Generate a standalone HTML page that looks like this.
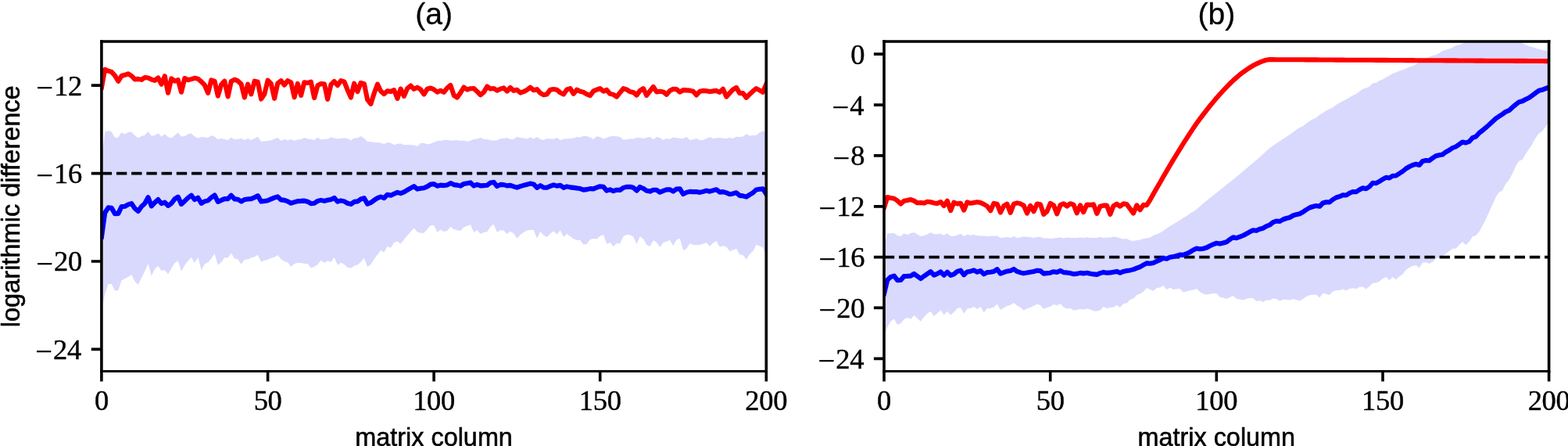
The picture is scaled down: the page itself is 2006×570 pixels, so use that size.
<!DOCTYPE html>
<html lang="en">
<head>
<meta charset="utf-8">
<title>Logarithmic difference per matrix column</title>
<style>
html,body{margin:0;padding:0;background:#fff;}
body{width:2006px;height:570px;overflow:hidden;}
svg{display:block;}
.tk{font-family:"Liberation Serif","DejaVu Serif",serif;font-size:36.5px;fill:#000;stroke:#000;stroke-width:0.4px;letter-spacing:-0.3px;}
.mn{font-size:38.5px;}
.lb{font-family:"Liberation Sans","DejaVu Sans",sans-serif;font-size:32.4px;fill:#000;stroke:#000;stroke-width:0.55px;}
.tt{font-family:"Liberation Sans","DejaVu Sans",sans-serif;font-size:39.1px;fill:#000;stroke:#000;stroke-width:0.3px;}
</style>
</head>
<body>
<svg width="2006" height="570" viewBox="0 0 2006 570">
<rect x="0" y="0" width="2006" height="570" fill="#fff"/>
<defs>
<clipPath id="c0"><rect x="130" y="53" width="850.3" height="421.5"/></clipPath>
<clipPath id="c1"><rect x="1131.1" y="53" width="850.5" height="421.5"/></clipPath>
</defs>
<g id="panel-a">
<g clip-path="url(#c0)">
<polygon fill="#d9d9fe" points="130.0,205.0 134.2,168.2 138.5,167.2 142.8,168.2 147.0,175.9 151.3,175.4 155.5,168.9 159.8,171.7 164.0,168.9 168.3,168.4 172.5,173.1 176.8,176.4 181.0,173.9 185.3,172.7 189.5,167.9 193.8,173.7 198.0,172.9 202.3,170.2 206.5,174.6 210.8,171.2 215.0,175.2 219.3,176.4 223.5,172.9 227.8,169.6 232.0,174.6 236.3,173.9 240.5,171.4 244.8,170.4 249.0,174.4 253.3,176.7 257.6,174.9 261.8,175.4 266.1,176.1 270.3,172.9 274.6,174.7 278.8,177.9 283.1,177.1 287.3,177.9 291.6,179.2 295.8,175.7 300.1,178.2 304.3,177.7 308.6,177.1 312.8,178.9 317.1,176.9 321.3,178.9 325.6,177.1 329.8,174.7 334.1,180.7 338.3,180.4 342.6,179.9 346.8,179.2 351.1,177.4 355.3,176.1 359.6,179.9 363.8,178.1 368.1,179.2 372.3,178.2 376.6,179.7 380.8,178.6 385.1,178.2 389.3,175.9 393.6,177.6 397.8,178.1 402.1,179.1 406.4,175.7 410.6,178.6 414.9,178.1 419.1,177.6 423.4,175.4 427.6,176.4 431.9,177.6 436.1,176.7 440.4,176.4 444.6,177.1 448.9,179.4 453.1,176.4 457.4,176.4 461.6,174.1 465.9,176.7 470.1,181.1 474.4,180.9 478.6,182.1 482.9,181.9 487.1,182.7 491.4,184.1 495.6,182.1 499.9,182.7 504.1,185.2 508.4,183.7 512.6,183.4 516.9,185.2 521.1,184.9 525.4,185.2 529.6,185.6 533.9,187.1 538.1,182.9 542.4,182.7 546.6,184.6 550.9,183.4 555.1,182.1 559.4,179.9 563.6,179.9 567.9,179.1 572.2,178.9 576.4,179.4 580.7,179.4 584.9,178.9 589.2,179.9 593.4,179.6 597.7,180.9 601.9,179.7 606.2,177.9 610.4,177.4 614.7,175.9 618.9,177.7 623.2,177.9 627.4,179.2 631.7,179.6 635.9,179.2 640.2,177.2 644.4,176.9 648.7,176.1 652.9,178.1 657.2,177.9 661.4,174.7 665.7,175.9 669.9,176.6 674.2,177.4 678.4,175.4 682.7,177.6 687.0,174.9 691.2,178.1 695.5,178.9 699.7,176.9 704.0,177.4 708.2,177.7 712.5,176.1 716.7,179.2 721.0,177.4 725.2,177.4 729.5,177.1 733.7,176.4 738.0,175.1 742.2,175.4 746.5,173.7 750.7,173.9 755.0,175.4 759.2,177.9 763.5,174.2 767.7,175.1 772.0,177.6 776.2,175.9 780.5,174.2 784.7,173.9 789.0,174.2 793.2,174.9 797.5,178.4 801.7,178.2 806.0,177.4 810.2,177.4 814.5,175.9 818.7,176.1 823.0,176.9 827.2,175.7 831.5,175.1 835.8,178.2 840.0,175.1 844.2,175.9 848.5,178.9 852.8,176.9 857.0,177.7 861.3,175.4 865.5,176.2 869.8,176.9 874.0,176.9 878.3,174.9 882.5,179.1 886.8,178.2 891.0,176.9 895.3,179.2 899.5,179.1 903.8,177.1 908.0,175.2 912.3,177.1 916.5,176.4 920.8,176.1 925.0,176.7 929.3,177.1 933.5,176.1 937.8,176.9 942.0,174.7 946.3,174.9 950.5,174.6 954.8,171.2 959.0,173.4 963.3,172.9 967.5,173.1 971.8,169.2 976.0,167.2 980.3,168.4 980.3,326.8 976.0,315.9 971.8,314.4 967.5,312.7 963.3,320.9 959.0,324.9 954.8,331.8 950.5,326.1 946.3,325.4 942.0,317.7 937.8,319.4 933.5,320.9 929.3,315.5 925.0,313.9 920.8,315.7 916.5,307.9 912.3,310.4 908.0,314.7 903.8,309.9 899.5,311.7 895.3,313.1 891.0,313.1 886.8,312.9 882.5,310.9 878.3,317.7 874.0,319.9 869.8,304.7 865.5,306.4 861.3,313.9 857.0,306.9 852.8,308.4 848.5,310.1 844.2,315.9 840.0,309.7 835.8,307.2 831.5,314.9 827.2,312.7 823.0,305.4 818.7,301.9 814.5,312.1 810.2,302.4 806.0,299.9 801.7,300.1 797.5,302.1 793.2,311.4 789.0,310.7 784.7,314.9 780.5,309.9 776.2,311.7 772.0,299.9 767.7,301.4 763.5,305.4 759.2,304.9 755.0,306.1 750.7,311.9 746.5,312.4 742.2,307.1 738.0,306.7 733.7,305.2 729.5,301.9 725.2,299.1 721.0,302.9 716.7,294.2 712.5,299.7 708.2,295.2 704.0,298.7 699.7,302.9 695.5,300.7 691.2,296.1 687.0,304.7 682.7,293.7 678.4,293.9 674.2,294.4 669.9,297.1 665.7,300.1 661.4,304.7 657.2,298.2 652.9,295.7 648.7,298.9 644.4,294.4 640.2,293.9 635.9,296.9 631.7,286.7 627.4,289.7 623.2,296.2 618.9,297.1 614.7,298.9 610.4,293.9 606.2,297.1 601.9,287.1 597.7,288.7 593.4,290.4 589.2,294.9 584.9,294.2 580.7,293.1 576.4,289.7 572.2,294.7 567.9,295.9 563.6,293.4 559.4,296.7 555.1,287.9 550.9,288.1 546.6,292.9 542.4,297.7 538.1,297.7 533.9,296.4 529.6,291.4 525.4,296.0 521.1,301.0 516.9,306.0 512.6,311.4 508.4,308.5 504.1,310.1 499.9,316.7 495.6,315.1 491.4,322.6 487.1,320.1 482.9,325.4 478.6,331.1 474.4,337.9 470.1,341.1 465.9,329.7 461.6,334.7 457.4,338.4 453.1,339.7 448.9,342.7 444.6,341.7 440.4,337.9 436.1,335.7 431.9,338.7 427.6,329.1 423.4,334.7 419.1,333.4 414.9,335.7 410.6,332.7 406.4,338.1 402.1,340.9 397.8,342.4 393.6,337.1 389.3,337.1 385.1,336.1 380.8,336.1 376.6,337.1 372.3,340.9 368.1,335.2 363.8,334.1 359.6,331.4 355.3,326.1 351.1,328.7 346.8,329.7 342.6,331.9 338.3,332.7 334.1,334.7 329.8,325.8 325.6,328.2 321.3,329.5 317.1,331.5 312.8,331.8 308.6,337.8 304.3,331.2 300.1,330.5 295.8,323.5 291.6,329.2 287.3,329.3 283.1,335.0 278.8,338.8 274.6,324.2 270.3,330.5 266.1,335.2 261.8,337.4 257.6,344.9 253.3,328.8 249.0,336.2 244.8,329.0 240.5,333.5 236.3,338.9 232.0,346.7 227.8,333.2 223.5,336.0 219.3,342.9 215.0,350.4 210.8,345.1 206.5,345.9 202.3,339.8 198.0,343.7 193.8,352.7 189.5,337.0 185.3,346.4 181.0,354.9 176.8,363.7 172.5,359.7 168.3,351.1 164.0,354.1 159.8,355.9 155.5,358.4 151.3,370.9 147.0,371.4 142.8,363.1 138.5,363.1 134.2,376.3 130.0,395.0"/>
<line x1="129.7" y1="221.6" x2="980.3" y2="221.6" stroke="#000" stroke-width="3.6" stroke-dasharray="13.41 5.8"/>
<polyline fill="none" stroke="#0000ff" stroke-width="6.1" stroke-linejoin="round" stroke-linecap="square" points="130.0,302.6 134.2,272.0 138.5,265.4 142.8,265.9 147.0,273.1 151.3,272.9 155.5,264.1 159.8,263.7 164.0,261.4 168.3,260.1 172.5,266.4 176.8,269.9 181.0,263.9 185.3,259.9 189.5,252.1 193.8,263.3 198.0,258.9 202.3,255.1 206.5,260.1 210.8,258.6 215.0,262.9 219.3,259.9 223.5,254.4 227.8,251.6 232.0,260.9 236.3,256.9 240.5,252.9 244.8,249.7 249.0,255.1 253.3,252.7 257.6,259.9 261.8,257.4 266.1,256.4 270.3,252.4 274.6,249.4 278.8,257.9 283.1,255.9 287.3,254.1 291.6,254.1 295.8,249.7 300.1,254.4 304.3,254.7 308.6,257.5 312.8,255.1 317.1,254.4 321.3,254.1 325.6,252.4 329.8,250.1 334.1,257.6 338.3,256.9 342.6,256.2 346.8,254.4 351.1,252.7 355.3,251.4 359.6,255.4 363.8,255.9 368.1,257.4 372.3,259.7 376.6,258.4 380.8,257.1 385.1,256.9 389.3,256.6 393.6,257.7 397.8,260.1 402.1,259.7 406.4,256.9 410.6,255.9 414.9,256.9 419.1,255.7 423.4,254.9 427.6,252.9 431.9,257.7 436.1,256.4 440.4,257.4 444.6,259.7 448.9,260.9 453.1,257.9 457.4,257.4 461.6,254.4 465.9,253.2 470.1,260.7 474.4,258.9 478.6,255.9 482.9,253.1 487.1,251.5 491.4,253.1 495.6,248.7 499.9,249.7 504.1,247.7 508.4,245.9 512.6,247.1 516.9,245.4 521.1,242.9 525.4,240.4 529.6,238.1 533.9,241.6 538.1,240.7 542.4,240.2 546.6,238.4 550.9,235.6 555.1,235.1 559.4,237.7 563.6,236.6 567.9,237.1 572.2,236.4 576.4,234.1 580.7,236.1 584.9,236.6 589.2,237.6 593.4,234.9 597.7,234.2 601.9,233.4 606.2,237.4 610.4,235.9 614.7,237.4 618.9,237.1 623.2,236.7 627.4,233.6 631.7,232.9 635.9,238.1 640.2,235.9 644.4,236.1 648.7,237.4 652.9,236.9 657.2,238.4 661.4,239.7 665.7,238.1 669.9,236.9 674.2,235.7 678.4,234.6 682.7,235.4 687.0,239.9 691.2,237.2 695.5,239.6 699.7,239.7 704.0,237.9 708.2,236.4 712.5,237.7 716.7,236.7 721.0,239.9 725.2,238.4 729.5,239.4 733.7,239.9 738.0,240.4 742.2,241.1 746.5,242.6 750.7,242.1 755.0,241.1 759.2,241.4 763.5,239.7 767.7,238.2 772.0,238.7 776.2,243.7 780.5,242.4 784.7,244.2 789.0,242.7 793.2,242.9 797.5,239.9 801.7,238.9 806.0,238.7 810.2,239.7 814.5,243.6 818.7,238.9 823.0,240.9 827.2,243.7 831.5,244.6 835.8,242.7 840.0,242.7 844.2,245.7 848.5,243.9 852.8,242.4 857.0,242.2 861.3,244.6 865.5,241.5 869.8,241.4 874.0,248.1 878.3,245.9 882.5,244.9 886.8,245.1 891.0,245.1 895.3,245.9 899.5,244.9 903.8,243.6 908.0,244.7 912.3,243.4 916.5,242.2 920.8,245.6 925.0,245.1 929.3,246.4 933.5,248.2 937.8,247.4 942.0,246.2 946.3,249.9 950.5,250.4 954.8,251.6 959.0,248.9 963.3,246.4 967.5,242.4 971.8,241.7 976.0,241.4 980.3,247.9"/>
<polyline fill="none" stroke="#ff0000" stroke-width="6.1" stroke-linejoin="round" stroke-linecap="square" points="130.0,111.7 134.2,88.8 138.5,90.7 142.8,92.0 147.0,96.6 151.3,103.8 155.5,97.0 159.8,95.8 164.0,94.3 168.3,97.0 172.5,101.4 176.8,100.9 181.0,101.9 185.3,99.0 189.5,99.5 193.8,101.6 198.0,102.9 202.3,99.5 206.5,107.7 210.8,97.2 215.0,118.7 219.3,100.4 223.5,103.6 227.8,102.2 232.0,117.7 236.3,100.0 240.5,102.3 244.8,101.1 249.0,99.8 253.3,100.7 257.6,104.4 261.8,108.7 266.1,118.9 270.3,102.4 274.6,103.9 278.8,122.6 283.1,108.1 287.3,103.7 291.6,123.4 295.8,103.9 300.1,101.7 304.3,103.4 308.6,107.4 312.8,124.6 317.1,107.6 321.3,120.4 325.6,103.7 329.8,104.7 334.1,126.6 338.3,120.4 342.6,102.7 346.8,106.9 351.1,125.9 355.3,106.4 359.6,103.2 363.8,108.7 368.1,103.1 372.3,105.4 376.6,124.3 380.8,106.9 385.1,121.9 389.3,105.2 393.6,105.9 397.8,104.7 402.1,125.1 406.4,109.2 410.6,107.1 414.9,107.2 419.1,126.9 423.4,108.1 427.6,103.9 431.9,109.1 436.1,103.2 440.4,104.4 444.6,114.9 448.9,124.6 453.1,106.7 457.4,117.1 461.6,105.9 465.9,107.1 470.1,127.4 474.4,132.8 478.6,119.4 482.9,107.7 487.1,116.4 491.4,120.1 495.6,116.2 499.9,117.1 504.1,115.1 508.4,125.9 512.6,113.6 516.9,122.9 521.1,113.1 525.4,109.5 529.6,113.9 533.9,111.7 538.1,114.4 542.4,120.6 546.6,113.7 550.9,112.5 555.1,114.4 559.4,117.6 563.6,115.7 567.9,117.9 572.2,112.4 576.4,108.9 580.7,121.9 584.9,124.6 589.2,118.4 593.4,111.5 597.7,114.6 601.9,113.2 606.2,113.1 610.4,116.9 614.7,121.3 618.9,117.9 623.2,110.5 627.4,113.6 631.7,113.0 635.9,115.6 640.2,113.7 644.4,112.4 648.7,116.6 652.9,111.9 657.2,115.9 661.4,114.7 665.7,118.6 669.9,117.2 674.2,114.9 678.4,111.7 682.7,115.3 687.0,114.1 691.2,118.9 695.5,121.3 699.7,120.4 704.0,114.7 708.2,114.1 712.5,114.7 716.7,118.4 721.0,120.6 725.2,114.4 729.5,113.1 733.7,119.9 738.0,114.7 742.2,116.7 746.5,117.9 750.7,120.4 755.0,122.1 759.2,116.4 763.5,114.7 767.7,113.1 772.0,116.6 776.2,114.9 780.5,119.9 784.7,120.9 789.0,123.6 793.2,118.4 797.5,113.2 801.7,114.4 806.0,117.2 810.2,117.9 814.5,121.6 818.7,115.9 823.0,113.2 827.2,121.9 831.5,116.4 835.8,110.9 840.0,117.4 844.2,116.7 848.5,117.4 852.8,120.9 857.0,115.9 861.3,113.7 865.5,114.1 869.8,117.6 874.0,115.1 878.3,115.4 882.5,115.6 886.8,116.7 891.0,121.4 895.3,116.7 899.5,115.9 903.8,116.2 908.0,117.1 912.3,116.4 916.5,115.9 920.8,117.9 925.0,113.7 929.3,123.6 933.5,118.9 937.8,114.4 942.0,111.9 946.3,119.1 950.5,119.1 954.8,124.9 959.0,120.4 963.3,116.4 967.5,113.1 971.8,115.4 976.0,117.7 980.3,107.4"/>
</g>
<g stroke="#000" fill="none" stroke-linecap="square">
<path d="M129.9 53.0V474.5 M980.3 53.0V474.5" stroke-width="3.6"/>
<path d="M130.0 53.0H980.3" stroke-width="3.5"/>
<path d="M130.0 474.5H980.3" stroke-width="3.2"/>
</g>
<path d="M129.9 474.5v12.9M342.6 474.5v12.9M555.1 474.5v12.9M767.7 474.5v12.9M980.3 474.5v12.9" stroke="#000" stroke-width="3.6" fill="none"/>
<path d="M130.0 109.2h-13.2M130.0 221.6h-13.2M130.0 334.0h-13.2M130.0 446.4h-13.2" stroke="#000" stroke-width="3.7" fill="none"/>
<text class="tk" x="130.0" y="524.2" text-anchor="middle">0</text>
<text class="tk" x="342.6" y="524.2" text-anchor="middle">50</text>
<text class="tk" x="555.1" y="524.2" text-anchor="middle">100</text>
<text class="tk" x="767.7" y="524.2" text-anchor="middle">150</text>
<text class="tk" x="980.3" y="524.2" text-anchor="middle">200</text>
<text class="tk" x="105.0" y="121.6" text-anchor="end"><tspan class="mn" dy="3.3">−</tspan><tspan dy="-3.3" dx="1.3">12</tspan></text>
<text class="tk" x="105.0" y="234.0" text-anchor="end"><tspan class="mn" dy="3.3">−</tspan><tspan dy="-3.3" dx="1.3">16</tspan></text>
<text class="tk" x="105.0" y="346.4" text-anchor="end"><tspan class="mn" dy="3.3">−</tspan><tspan dy="-3.3" dx="1.3">20</tspan></text>
<text class="tk" x="104.0" y="458.8" text-anchor="end"><tspan class="mn" dy="3.3">−</tspan><tspan dy="-3.3" dx="1.3">24</tspan></text>
<text class="tt" x="555.1" y="31.4" text-anchor="middle">(a)</text>
<text class="lb" x="555.1" y="570.0" text-anchor="middle">matrix column</text>
<text class="lb" style="font-size:32.6px" transform="translate(24.5 263.8) rotate(-90)" text-anchor="middle">logarithmic difference</text>
</g>
<g id="panel-b">
<g clip-path="url(#c1)">
<polygon fill="#d9d9fe" points="1131.1,316.0 1135.3,298.4 1139.6,298.1 1143.9,298.1 1148.1,301.1 1152.4,301.9 1156.6,298.2 1160.9,299.9 1165.1,297.9 1169.4,296.9 1173.6,299.4 1177.9,301.9 1182.1,301.1 1186.4,299.4 1190.6,296.9 1194.9,299.2 1199.1,299.2 1203.4,298.6 1207.6,300.7 1211.9,298.2 1216.2,301.7 1220.4,301.9 1224.7,300.4 1228.9,298.7 1233.2,301.9 1237.4,299.7 1241.7,300.7 1245.9,300.1 1250.2,301.1 1254.4,301.4 1258.7,301.4 1262.9,302.1 1267.2,301.4 1271.4,301.4 1275.7,301.4 1279.9,303.9 1284.2,303.6 1288.4,302.9 1292.7,303.9 1297.0,301.9 1301.2,303.9 1305.5,303.2 1309.7,302.2 1314.0,302.7 1318.2,303.1 1322.5,303.9 1326.7,302.7 1331.0,302.7 1335.2,304.6 1339.5,304.6 1343.7,304.9 1348.0,304.6 1352.2,304.1 1356.5,303.2 1360.7,304.6 1365.0,303.6 1369.2,304.1 1373.5,304.1 1377.7,304.1 1382.0,303.6 1386.2,304.1 1390.5,303.2 1394.8,304.1 1399.0,304.1 1403.3,303.9 1407.5,302.7 1411.8,303.9 1416.0,303.6 1420.3,303.4 1424.5,302.4 1428.8,302.9 1433.0,304.6 1437.3,305.4 1441.5,305.1 1445.8,307.3 1450.0,308.0 1454.3,307.0 1458.5,306.4 1462.8,304.9 1467.0,304.4 1471.3,303.4 1475.5,300.7 1479.8,299.4 1484.1,297.4 1488.3,294.9 1492.6,291.4 1496.8,288.9 1501.1,286.4 1505.3,283.9 1509.6,281.4 1513.8,278.4 1518.1,275.9 1522.3,273.1 1526.6,270.2 1530.8,267.5 1535.1,263.7 1539.3,260.1 1543.6,256.6 1547.8,253.2 1552.1,249.8 1556.3,246.4 1560.6,242.9 1564.9,239.5 1569.1,236.1 1573.4,232.7 1577.6,229.4 1581.9,226.0 1586.1,222.4 1590.4,218.8 1594.6,215.2 1598.9,211.8 1603.1,208.1 1607.4,204.5 1611.6,200.7 1615.9,196.9 1620.1,193.1 1624.4,189.3 1628.6,186.3 1632.9,183.3 1637.2,180.4 1641.4,177.4 1645.7,175.0 1649.9,171.9 1654.2,169.1 1658.4,166.1 1662.7,163.0 1666.9,161.3 1671.2,157.8 1675.4,154.8 1679.7,152.3 1683.9,150.4 1688.2,146.8 1692.4,144.6 1696.7,141.2 1700.9,139.4 1705.2,137.2 1709.4,133.9 1713.7,131.4 1717.9,129.3 1722.2,126.9 1726.5,124.4 1730.7,122.0 1735.0,120.0 1739.2,116.9 1743.5,113.8 1747.7,112.4 1752.0,110.8 1756.2,106.3 1760.5,105.9 1764.7,103.1 1769.0,101.6 1773.2,99.1 1777.5,96.4 1781.7,94.0 1786.0,92.4 1790.2,90.8 1794.5,89.3 1798.7,87.8 1803.0,85.6 1807.2,84.4 1811.5,82.2 1815.8,79.5 1820.0,77.6 1824.3,74.6 1828.5,72.5 1832.8,70.9 1837.0,70.3 1841.3,67.8 1845.5,65.0 1849.8,63.8 1854.0,62.6 1858.3,60.8 1862.5,58.0 1866.8,57.4 1871.0,55.5 1875.3,54.0 1879.5,52.7 1883.8,51.2 1888.0,49.5 1892.3,49.5 1896.5,49.5 1900.8,49.5 1905.0,49.5 1909.3,49.5 1913.6,49.5 1917.8,49.5 1922.1,49.5 1926.3,49.5 1930.6,49.5 1934.8,50.7 1939.1,51.9 1943.3,53.2 1947.6,55.3 1951.8,57.2 1956.1,59.0 1960.3,60.3 1964.6,61.6 1968.8,62.7 1973.1,63.8 1977.3,64.7 1981.6,65.5 1981.6,155.8 1977.3,162.1 1973.1,167.8 1968.8,170.6 1964.6,176.3 1960.3,184.2 1956.1,190.5 1951.8,196.8 1947.6,204.1 1943.3,205.7 1939.1,212.6 1934.8,222.1 1930.6,230.0 1926.3,234.7 1922.1,243.6 1917.8,245.8 1913.6,252.1 1909.3,261.6 1905.0,271.0 1900.8,280.5 1896.5,288.4 1892.3,296.3 1888.0,301.0 1883.8,302.6 1879.5,308.9 1875.3,313.0 1871.0,308.9 1866.8,313.0 1862.5,317.8 1858.3,317.8 1854.0,321.0 1849.8,324.1 1845.5,327.7 1841.3,329.1 1837.0,330.5 1832.8,334.8 1828.5,336.9 1824.3,335.2 1820.0,335.5 1815.8,342.3 1811.5,339.1 1807.2,339.8 1803.0,341.9 1798.7,344.7 1794.5,350.4 1790.2,353.3 1786.0,357.2 1781.7,354.0 1777.5,357.9 1773.2,354.0 1769.0,356.1 1764.7,359.7 1760.5,361.4 1756.2,361.8 1752.0,366.1 1747.7,369.6 1743.5,366.5 1739.2,366.8 1735.0,369.3 1730.7,368.2 1726.5,368.9 1722.2,371.3 1717.9,369.6 1713.7,371.1 1709.4,371.1 1705.2,372.4 1700.9,376.9 1696.7,375.7 1692.4,374.7 1688.2,380.4 1683.9,376.4 1679.7,376.7 1675.4,376.9 1671.2,379.2 1666.9,381.9 1662.7,384.6 1658.4,383.2 1654.2,381.9 1649.9,383.4 1645.7,383.1 1641.4,382.7 1637.2,384.7 1632.9,381.7 1628.6,381.4 1624.4,383.7 1620.1,383.6 1615.9,385.9 1611.6,383.9 1607.4,384.9 1603.1,380.9 1598.9,380.7 1594.6,382.1 1590.4,383.4 1586.1,382.4 1581.9,381.9 1577.6,377.9 1573.4,379.9 1569.1,382.1 1564.9,380.4 1560.6,379.7 1556.3,375.1 1552.1,374.9 1547.8,375.7 1543.6,376.4 1539.3,375.4 1535.1,372.9 1530.8,368.9 1526.6,370.4 1522.3,371.2 1518.1,372.4 1513.8,373.4 1509.6,369.0 1505.3,369.2 1501.1,370.1 1496.8,367.5 1492.6,370.0 1488.3,365.0 1484.1,367.5 1479.8,368.0 1475.5,371.8 1471.3,370.1 1467.0,368.0 1462.8,372.8 1458.5,375.4 1454.3,377.1 1450.0,381.4 1445.8,382.7 1441.5,387.4 1437.3,388.1 1433.0,392.9 1428.8,389.9 1424.5,392.7 1420.3,393.1 1416.0,393.9 1411.8,391.9 1407.5,396.4 1403.3,397.7 1399.0,397.4 1394.8,395.4 1390.5,394.4 1386.2,395.4 1382.0,394.9 1377.7,396.1 1373.5,396.7 1369.2,394.1 1365.0,394.4 1360.7,392.4 1356.5,388.1 1352.2,390.4 1348.0,388.9 1343.7,391.9 1339.5,392.9 1335.2,394.9 1331.0,389.9 1326.7,388.7 1322.5,390.7 1318.2,392.9 1314.0,394.2 1309.7,396.7 1305.5,393.1 1301.2,390.4 1297.0,386.9 1292.7,389.7 1288.4,390.9 1284.2,393.4 1279.9,395.9 1275.7,388.6 1271.4,392.7 1267.2,393.9 1262.9,394.1 1258.7,399.6 1254.4,392.1 1250.2,395.1 1245.9,391.9 1241.7,393.9 1237.4,394.4 1233.2,400.7 1228.9,392.9 1224.7,393.9 1220.4,398.9 1216.2,402.4 1211.9,397.7 1207.6,402.4 1203.4,396.2 1199.1,400.4 1194.9,404.1 1190.6,397.9 1186.4,400.4 1182.1,404.9 1177.9,410.7 1173.6,406.9 1169.4,402.9 1165.1,408.1 1160.9,405.9 1156.6,407.9 1152.4,413.6 1148.1,414.9 1143.9,407.4 1139.6,410.4 1135.3,417.9 1131.1,429.5"/>
<line x1="1130.8" y1="328.6" x2="1981.6" y2="328.6" stroke="#000" stroke-width="3.6" stroke-dasharray="13.41 5.8"/>
<polyline fill="none" stroke="#0000ff" stroke-width="6.1" stroke-linejoin="round" stroke-linecap="square" points="1131.1,375.0 1135.3,357.7 1139.6,353.9 1143.9,352.7 1148.1,358.2 1152.4,358.0 1156.6,353.1 1160.9,352.9 1165.1,352.6 1169.4,349.9 1173.6,352.9 1177.9,356.1 1182.1,352.9 1186.4,349.9 1190.6,347.1 1194.9,351.7 1199.1,349.9 1203.4,347.4 1207.6,351.7 1211.9,347.7 1216.2,351.9 1220.4,350.4 1224.7,346.9 1228.9,345.7 1233.2,351.4 1237.4,347.4 1241.7,346.7 1245.9,345.4 1250.2,347.7 1254.4,346.1 1258.7,350.4 1262.9,348.1 1267.2,347.7 1271.4,346.9 1275.7,344.2 1279.9,349.6 1284.2,348.1 1288.4,346.7 1292.7,346.1 1297.0,343.9 1301.2,346.9 1305.5,348.4 1309.7,349.4 1314.0,348.4 1318.2,347.7 1322.5,347.1 1326.7,345.7 1331.0,346.1 1335.2,349.6 1339.5,349.1 1343.7,348.7 1348.0,347.2 1352.2,347.9 1356.5,345.9 1360.7,348.1 1365.0,348.4 1369.2,349.1 1373.5,350.2 1377.7,349.9 1382.0,348.9 1386.2,349.4 1390.5,348.7 1394.8,349.7 1399.0,350.4 1403.3,350.9 1407.5,349.2 1411.8,347.9 1416.0,348.7 1420.3,348.4 1424.5,347.7 1428.8,346.9 1433.0,348.7 1437.3,346.9 1441.5,346.1 1445.8,345.4 1450.0,344.4 1454.3,342.7 1458.5,341.1 1462.8,338.7 1467.0,336.4 1471.3,336.7 1475.5,335.9 1479.8,333.9 1484.1,332.1 1488.3,330.1 1492.6,330.7 1496.8,328.7 1501.1,328.1 1505.3,326.9 1509.6,325.6 1513.8,325.9 1518.1,324.2 1522.3,322.2 1526.6,319.5 1530.8,317.5 1535.1,318.3 1539.3,317.7 1543.6,316.5 1547.8,314.2 1552.1,312.3 1556.3,310.7 1560.6,311.5 1564.9,310.5 1569.1,309.3 1573.4,306.0 1577.6,303.2 1581.9,304.2 1586.1,302.7 1590.4,301.0 1594.6,298.7 1598.9,296.3 1603.1,294.2 1607.4,294.8 1611.6,292.8 1615.9,291.7 1620.1,289.2 1624.4,287.5 1628.6,284.2 1632.9,282.5 1637.2,283.0 1641.4,280.5 1645.7,279.0 1649.9,278.0 1654.2,275.5 1658.4,274.2 1662.7,273.2 1666.9,271.0 1671.2,268.0 1675.4,265.5 1679.7,264.0 1683.9,263.0 1688.2,263.8 1692.4,259.5 1696.7,258.3 1700.9,258.5 1705.2,255.0 1709.4,252.5 1713.7,251.2 1717.9,249.2 1722.2,249.5 1726.5,246.8 1730.7,245.0 1735.0,245.2 1739.2,242.5 1743.5,240.2 1747.7,241.2 1752.0,238.5 1756.2,233.8 1760.5,234.2 1764.7,231.8 1769.0,229.2 1773.2,226.8 1777.5,227.5 1781.7,224.8 1786.0,224.5 1790.2,221.8 1794.5,219.0 1798.7,215.5 1803.0,213.0 1807.2,211.0 1811.5,209.8 1815.8,211.0 1820.0,206.0 1824.3,205.0 1828.5,205.2 1832.8,202.0 1837.0,199.2 1841.3,198.2 1845.5,197.5 1849.8,194.2 1854.0,192.0 1858.3,189.0 1862.5,187.5 1866.8,184.5 1871.0,181.5 1875.3,182.5 1879.5,181.0 1883.8,176.2 1888.0,174.7 1892.3,170.0 1896.5,166.8 1900.8,163.2 1905.0,159.5 1909.3,155.5 1913.6,151.5 1917.8,148.7 1922.1,146.0 1926.3,142.8 1930.6,141.2 1934.8,137.3 1939.1,133.6 1943.3,130.4 1947.6,129.3 1951.8,127.0 1956.1,125.0 1960.3,122.0 1964.6,118.8 1968.8,115.8 1973.1,114.8 1977.3,113.2 1981.6,111.2"/>
<polyline fill="none" stroke="#ff0000" stroke-width="6.1" stroke-linejoin="round" stroke-linecap="square" points="1131.1,265.2 1135.3,252.0 1139.6,253.1 1143.9,253.8 1148.1,256.5 1152.4,260.6 1156.6,256.7 1160.9,256.0 1165.1,255.1 1169.4,256.7 1173.6,259.3 1177.9,259.0 1182.1,259.6 1186.4,257.8 1190.6,258.2 1194.9,259.4 1199.1,260.1 1203.4,258.1 1207.6,262.9 1211.9,256.8 1216.2,269.2 1220.4,258.7 1224.7,260.5 1228.9,259.7 1233.2,268.6 1237.4,258.4 1241.7,259.8 1245.9,259.1 1250.2,258.3 1254.4,258.9 1258.7,261.0 1262.9,263.5 1267.2,269.3 1271.4,259.9 1275.7,260.7 1279.9,271.5 1284.2,263.1 1288.4,260.6 1292.7,271.9 1297.0,260.7 1301.2,259.4 1305.5,260.4 1309.7,262.7 1314.0,272.6 1318.2,262.8 1322.5,270.2 1326.7,260.6 1331.0,261.2 1335.2,273.8 1339.5,270.2 1343.7,260.0 1348.0,262.4 1352.2,273.4 1356.5,262.1 1360.7,260.3 1365.0,263.5 1369.2,260.2 1373.5,261.6 1377.7,272.4 1382.0,262.4 1386.2,271.1 1390.5,261.5 1394.8,261.9 1399.0,261.2 1403.3,272.9 1407.5,263.8 1411.8,262.6 1416.0,262.6 1420.3,273.9 1424.5,263.1 1428.8,260.7 1433.0,263.7 1437.3,260.3 1441.5,261.0 1445.8,267.0 1450.0,272.6 1454.3,262.3 1458.5,268.3 1462.8,261.9 1467.0,262.2 1471.3,255.6 1475.5,248.1 1479.8,240.6 1484.1,233.2 1488.3,225.8 1492.6,218.5 1496.8,211.3 1501.1,204.2 1505.3,197.2 1509.6,190.3 1513.8,183.5 1518.1,176.8 1522.3,170.3 1526.6,163.9 1530.8,157.7 1535.1,151.9 1539.3,146.3 1543.6,140.8 1547.8,135.5 1552.1,130.4 1556.3,125.3 1560.6,120.5 1564.9,115.8 1569.1,111.3 1573.4,107.0 1577.6,102.9 1581.9,99.1 1586.1,95.5 1590.4,92.2 1594.6,89.2 1598.9,86.4 1603.1,83.8 1607.4,81.6 1611.6,79.7 1615.9,78.0 1620.1,76.7 1624.4,76.1 1628.6,76.1 1632.9,76.2 1637.2,76.2 1641.4,76.2 1645.7,76.2 1649.9,76.2 1654.2,76.3 1658.4,76.3 1662.7,76.3 1666.9,76.3 1671.2,76.4 1675.4,76.4 1679.7,76.4 1683.9,76.4 1688.2,76.5 1692.4,76.5 1696.7,76.5 1700.9,76.5 1705.2,76.5 1709.4,76.6 1713.7,76.6 1717.9,76.6 1722.2,76.7 1726.5,76.7 1730.7,76.7 1735.0,76.7 1739.2,76.7 1743.5,76.8 1747.7,76.8 1752.0,76.8 1756.2,76.8 1760.5,76.9 1764.7,76.9 1769.0,76.9 1773.2,76.9 1777.5,77.0 1781.7,77.0 1786.0,77.0 1790.2,77.0 1794.5,77.0 1798.7,77.1 1803.0,77.1 1807.2,77.1 1811.5,77.2 1815.8,77.2 1820.0,77.2 1824.3,77.2 1828.5,77.2 1832.8,77.3 1837.0,77.3 1841.3,77.3 1845.5,77.3 1849.8,77.4 1854.0,77.4 1858.3,77.4 1862.5,77.4 1866.8,77.5 1871.0,77.5 1875.3,77.5 1879.5,77.5 1883.8,77.5 1888.0,77.6 1892.3,77.6 1896.5,77.6 1900.8,77.7 1905.0,77.7 1909.3,77.7 1913.6,77.7 1917.8,77.7 1922.1,77.8 1926.3,77.8 1930.6,77.8 1934.8,77.8 1939.1,77.9 1943.3,77.9 1947.6,77.9 1951.8,77.9 1956.1,78.0 1960.3,78.0 1964.6,78.0 1968.8,78.0 1973.1,78.0 1977.3,78.1 1981.6,78.1"/>
</g>
<g stroke="#000" fill="none" stroke-linecap="square">
<path d="M1131.0 53.0V474.5 M1981.6 53.0V474.5" stroke-width="3.6"/>
<path d="M1131.1 53.0H1981.6" stroke-width="3.5"/>
<path d="M1131.1 474.5H1981.6" stroke-width="3.2"/>
</g>
<path d="M1131.0 474.5v12.9M1343.7 474.5v12.9M1556.3 474.5v12.9M1769.0 474.5v12.9M1981.6 474.5v12.9" stroke="#000" stroke-width="3.6" fill="none"/>
<path d="M1131.1 69.2h-13.2M1131.1 134.1h-13.2M1131.1 198.9h-13.2M1131.1 263.8h-13.2M1131.1 328.6h-13.2M1131.1 393.4h-13.2M1131.1 458.3h-13.2" stroke="#000" stroke-width="3.7" fill="none"/>
<text class="tk" x="1131.1" y="524.2" text-anchor="middle">0</text>
<text class="tk" x="1343.7" y="524.2" text-anchor="middle">50</text>
<text class="tk" x="1556.3" y="524.2" text-anchor="middle">100</text>
<text class="tk" x="1769.0" y="524.2" text-anchor="middle">150</text>
<text class="tk" x="1981.6" y="524.2" text-anchor="middle">200</text>
<text class="tk" x="1106.1" y="81.6" text-anchor="end">0</text>
<text class="tk" x="1105.1" y="146.5" text-anchor="end"><tspan class="mn" dy="3.3">−</tspan><tspan dy="-3.3" dx="1.3">4</tspan></text>
<text class="tk" x="1106.1" y="211.3" text-anchor="end"><tspan class="mn" dy="3.3">−</tspan><tspan dy="-3.3" dx="1.3">8</tspan></text>
<text class="tk" x="1106.1" y="276.1" text-anchor="end"><tspan class="mn" dy="3.3">−</tspan><tspan dy="-3.3" dx="1.3">12</tspan></text>
<text class="tk" x="1106.1" y="341.0" text-anchor="end"><tspan class="mn" dy="3.3">−</tspan><tspan dy="-3.3" dx="1.3">16</tspan></text>
<text class="tk" x="1106.1" y="405.8" text-anchor="end"><tspan class="mn" dy="3.3">−</tspan><tspan dy="-3.3" dx="1.3">20</tspan></text>
<text class="tk" x="1105.1" y="470.7" text-anchor="end"><tspan class="mn" dy="3.3">−</tspan><tspan dy="-3.3" dx="1.3">24</tspan></text>
<text class="tt" x="1556.3" y="31.4" text-anchor="middle">(b)</text>
<text class="lb" x="1556.3" y="570.0" text-anchor="middle">matrix column</text>
</g>
</svg>
</body>
</html>
